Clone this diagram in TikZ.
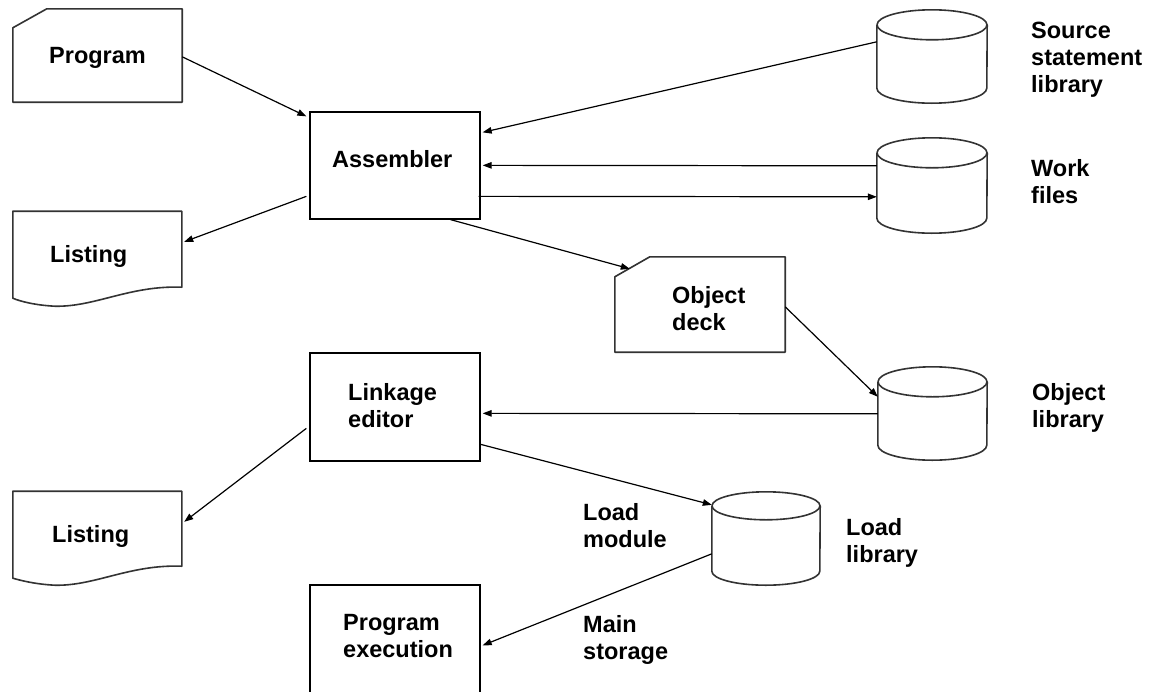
\documentclass[tikz,border=0pt]{standalone}
\usepackage{fontspec}
\setmainfont{Liberation Sans}
\usetikzlibrary{arrows.meta,calc}
\newcommand\drawdbcyl[3]{%
  \draw[outl] ($(#1.north west)+(0,-#3)$) -- ($(#1.south west)+(0,#3)$)
     arc[start angle=180,end angle=360,x radius=#2,y radius=#3]
     -- ($(#1.north east)+(0,-#3)$);
  \draw[outl] ($(#1.north)+(0,-#3)$) ellipse[x radius=#2,y radius=#3];}
\begin{document}
\begin{tikzpicture}[x=1pt,y=1pt,
  lbl/.style={anchor=base west, align=left, inner sep=0pt, font=\bfseries\fontsize{23.5}{27}\selectfont},
  box/.style={draw=black, line width=1.3pt, inner sep=0pt},
  hole/.style={inner sep=0pt, draw=none},
  outl/.style={draw=black!80, line width=1.6pt, line join=round},
  conn/.style={line width=1.2pt, -{Triangle[length=9pt,width=6.5pt]}},
]
\useasboundingbox (0,0) rectangle (1153,-691);
\clip (0,0) rectangle (1153,-691);

% ---- shape nodes ----
\node[hole, minimum width=169pt, minimum height=93pt] (prog) at (97.5,-55.5) {};
\node[hole, minimum width=169pt, minimum height=95pt] (lst1) at (97.5,-258.5) {};
\node[hole, minimum width=169pt, minimum height=94pt] (lst2) at (97.5,-538) {};
\node[hole, minimum width=170pt, minimum height=95pt] (deck) at (700,-304.5) {};
\node[box, minimum width=170pt, minimum height=107pt] (asm) at (395,-165.5) {};
\node[box, minimum width=170pt, minimum height=108pt] (link) at (395,-407) {};
\node[box, minimum width=170pt, minimum height=120pt] (exec) at (395,-645) {};
\node[hole, minimum width=110pt, minimum height=93pt] (src) at (932,-56.5) {};
\node[hole, minimum width=110pt, minimum height=95pt] (work) at (932,-185.5) {};
\node[hole, minimum width=109pt, minimum height=93pt] (objlib) at (932.5,-413.5) {};
\node[hole, minimum width=108pt, minimum height=93pt] (loadlib) at (766,-538.5) {};

% ---- outlines ----
\draw[outl] ([yshift=-19pt]prog.north west) -- ([xshift=34pt]prog.north west)
  -- (prog.north east) -- (prog.south east) -- (prog.south west) -- cycle;
\draw[outl] ([yshift=-20pt]deck.north west) -- ([xshift=35pt]deck.north west)
  -- (deck.north east) -- (deck.south east) -- (deck.south west) -- cycle;
\begin{scope}[shift={(lst1.south west)}]
  \draw[outl] (0,95) -- (169,95) -- (169,19) .. controls (117,21) and (82,-1) .. (42,0)
     .. controls (22,1) and (7,5) .. (0,8) -- cycle;
\end{scope}
\begin{scope}[shift={(lst2.south west)}]
  \draw[outl] (0,94) -- (169,94) -- (169,19) .. controls (117,21) and (82,-1) .. (42,0)
     .. controls (22,1) and (7,5) .. (0,7) -- cycle;
\end{scope}
\drawdbcyl{src}{55}{15}
\drawdbcyl{work}{55}{15}
\drawdbcyl{objlib}{54.5}{15}
\drawdbcyl{loadlib}{54}{14}

% ---- labels (anchor at baseline of last line) ----
\node[lbl] (tprog) at (49,-63) {Program};
\node[lbl] (tasm) at (332,-167) {Assembler};
\node[lbl] (tlst1) at (50,-262) {Listing};
\node[lbl] (tdeck) at (672,-330) {Object\\deck};
\node[lbl] (tlink) at (348,-427) {Linkage\\editor};
\node[lbl] (tlst2) at (52,-542) {Listing};
\node[lbl] (texec) at (343,-657) {Program\\execution};
\node[lbl] (tmain) at (583,-659) {Main\\storage};
\node[lbl] (tmod) at (583,-547) {Load\\module};
\node[lbl] (tload) at (846,-562) {Load\\library};
\node[lbl] (tobj) at (1032,-427) {Object\\library};
\node[lbl] (tsrc) at (1031,-92) {Source\\statement\\library};
\node[lbl] (twork) at (1031,-203) {Work\\files};

% ---- connectors ----
\draw[conn] ($(prog.north east)+(0,-48)$) -- ($(asm.north west)+(-3,-5)$);
\draw[conn] ($(src.north west)+(0,-32)$) -- ($(asm.north east)+(2,-21)$);
\draw[conn] ($(work.north west)+(0,-28)$) -- ($(asm.north east)+(2,-54)$);
\draw[conn] ($(asm.north east)+(-2,-85)$) -- ($(work.north west)+(0,-59)$);
\draw[conn] ($(asm.north west)+(-3,-85)$) -- ($(lst1.north east)+(2,-31)$);
\draw[conn] ($(asm.south east)+(-30,0)$) -- ($(deck.north west)+(15,-12)$);
\draw[conn] ($(deck.north east)+(0,-50)$) -- ($(objlib.north west)+(0,-30)$);
\draw[conn] ($(objlib.north west)+(0,-47)$) -- ($(link.north east)+(2,-61)$);
\draw[conn] ($(link.north west)+(-3,-76)$) -- ($(lst2.north east)+(2,-31)$);
\draw[conn] ($(link.north east)+(0,-92)$) -- ($(loadlib.north west)+(0,-13)$);
\draw[conn] ($(loadlib.north west)+(0,-62)$) -- ($(exec.north east)+(2,-61)$);
\end{tikzpicture}
\end{document}
